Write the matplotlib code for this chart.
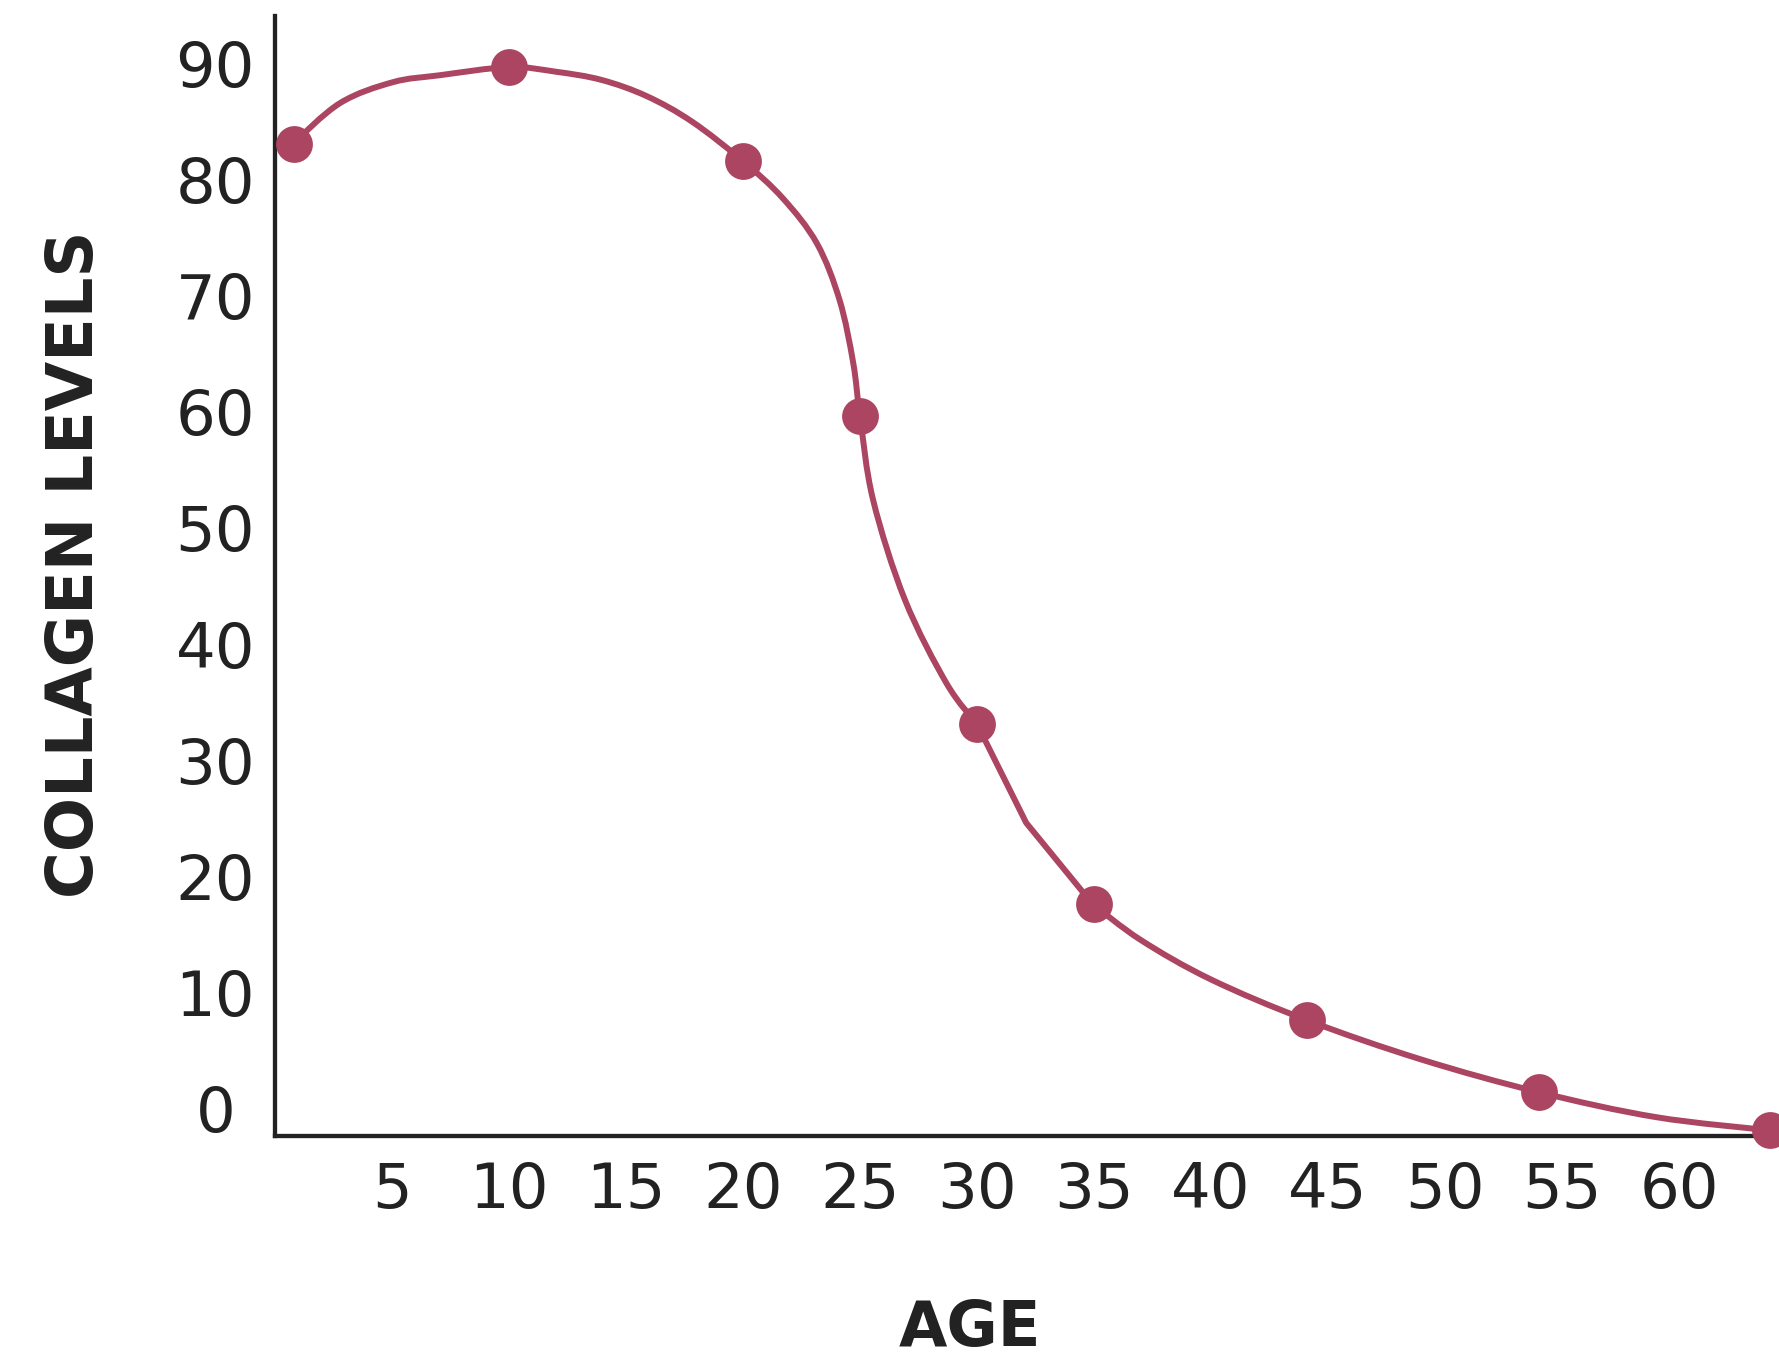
import numpy as np
import matplotlib
matplotlib.use("Agg")
import matplotlib.pyplot as plt
from matplotlib.path import Path
from matplotlib.patches import PathPatch

# ---- data ----
point_age = [0.8, 10, 20, 25, 30, 35, 44.1, 54, 63.9]
point_level = [83.1, 89.7, 81.6, 59.6, 33.1, 17.6, 7.6, 1.4, -1.9]

# traced curve, in pieces joined at visible corners
curve_age_a = [0.76, 2.78, 5.04, 7.05, 10.0, 12.0, 13.94, 15.88, 17.82, 20.0,
               21.7, 23.16, 24.13, 24.71, 25.0, 25.56, 26.92, 28.7, 30.0]
curve_level_a = [83.1, 86.6, 88.4, 89.0, 89.7, 89.3, 88.6, 87.2, 85.0, 81.6,
                 78.4, 74.5, 69.6, 64.2, 59.6, 52.4, 43.8, 36.6, 33.1]
curve_age_b = [30.0, 32.1, 34.94]
curve_level_b = [33.1, 24.6, 17.6]
curve_age_c = [34.94, 37.0, 40.0, 44.1, 49.0, 54.0, 59.0, 63.89]
curve_level_c = [17.6, 14.5, 11.1, 7.6, 4.2, 1.4, -0.75, -1.9]

x_ticks = [5, 10, 15, 20, 25, 30, 35, 40, 45, 50, 55, 60]
y_ticks = [0, 10, 20, 30, 40, 50, 60, 70, 80, 90]

x_label = "AGE"
y_label = "COLLAGEN LEVELS"

COLOR = "#AB4562"
INK = "#222222"


def smooth_path(xs, ys):
    pts = np.column_stack([xs, ys]).astype(float)
    verts = [pts[0]]
    codes = [Path.MOVETO]
    n = len(pts)
    for i in range(n - 1):
        p0 = pts[i - 1] if i > 0 else pts[i]
        p1 = pts[i]
        p2 = pts[i + 1]
        p3 = pts[i + 2] if i + 2 < n else pts[i + 1]
        c1 = p1 + (p2 - p0) / 6.0
        c2 = p2 - (p3 - p1) / 6.0
        verts += [c1, c2, p2]
        codes += [Path.CURVE4] * 3
    return Path(verts, codes)


W, H = 1779, 1361
fig = plt.figure(figsize=(W / 100, H / 100), dpi=100)
ax = fig.add_axes([275 / W, 1 - 1136 / H, (W - 275) / W, (1136 - 16) / H])

pieces = [(curve_age_a, curve_level_a), (curve_age_c, curve_level_c)]
for xs, ys in pieces:
    patch = PathPatch(smooth_path(xs, ys), facecolor="none", edgecolor=COLOR,
                      linewidth=4.3, capstyle="round", joinstyle="round",
                      transform=ax.transData, clip_on=False, zorder=2)
    ax.add_patch(patch)
ax.plot(curve_age_b, curve_level_b, color=COLOR, linewidth=4.3,
        solid_joinstyle="round", solid_capstyle="round", zorder=2)

ax.plot(point_age, point_level, linestyle="none", marker="o", markersize=26.5,
        color=COLOR, markeredgewidth=0, clip_on=False, zorder=3)

ax.set_xlim(0, 64.27)
ax.set_ylim(-2.38, 94.1)

for s in ["top", "right"]:
    ax.spines[s].set_visible(False)
for s in ["left", "bottom"]:
    ax.spines[s].set_linewidth(3.1)
    ax.spines[s].set_color(INK)

ax.set_xticks(x_ticks)
ax.set_xticklabels([str(t) for t in x_ticks])
ax.set_yticks(y_ticks)
ax.set_yticklabels([str(t) for t in y_ticks])
ax.tick_params(axis="x", length=0, pad=18, labelsize=45, labelcolor=INK)
ax.tick_params(axis="y", length=0, pad=43, labelsize=45, labelcolor=INK)
for lab in ax.get_yticklabels():
    lab.set_horizontalalignment("center")

fig.text(970 / W, 1 - 1346 / H, x_label, fontsize=45, fontweight="bold",
         color=INK, ha="center", va="baseline")
fig.text(93 / W, 1 - 564 / H, y_label, fontsize=46, fontweight="bold",
         color=INK, ha="center", va="baseline", rotation=90,
         rotation_mode="anchor")

fig.savefig("out.png", dpi=100)
